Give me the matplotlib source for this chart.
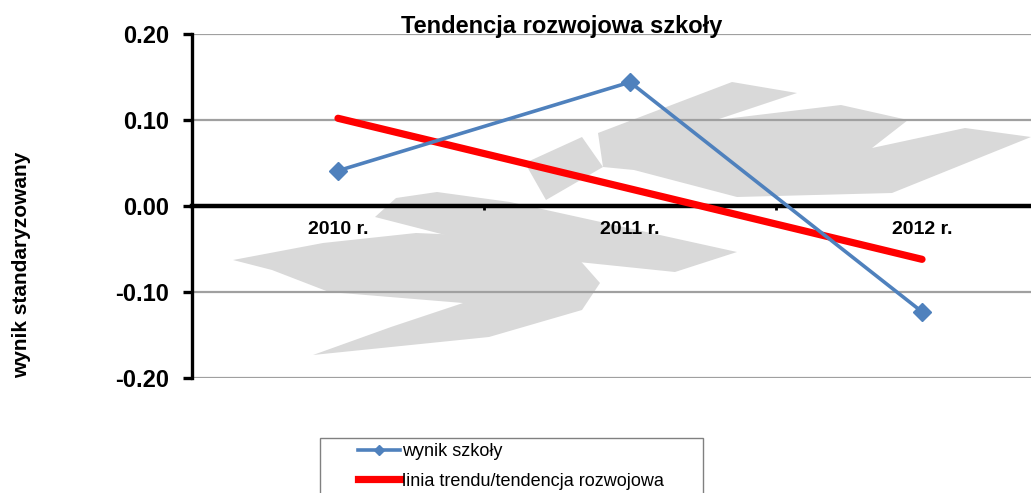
import matplotlib.pyplot as plt
from matplotlib.patches import Polygon, Rectangle
from matplotlib.lines import Line2D

years = ["2010 r.", "2011 r.", "2012 r."]
school_score = [0.041, 0.144, -0.123]
trend_line = [0.102, 0.020, -0.062]
y_ticks = [-0.20, -0.10, 0.00, 0.10, 0.20]

W, H = 1031, 493
plt.rcParams['font.family'] = ['Liberation Sans', 'DejaVu Sans']

fig = plt.figure(figsize=(W / 100, H / 100), dpi=100)
ax = fig.add_axes([192 / W, 1 - 378 / H, 876 / W, 344 / H])

xs = [i + 0.5 for i in range(len(years))]

# faint watermark in the background (pixel coords of the figure)
watermark = [
    [(598, 133), (732, 82), (797, 93), (716, 120), (841, 105), (908, 120), (872, 148),
     (965, 128), (1031, 137), (892, 193), (737, 197), (634, 170), (603, 167)],
    [(525, 163), (582, 137), (603, 167), (546, 200)],
    [(396, 198), (437, 192), (510, 202), (737, 252), (675, 272), (530, 257), (453, 237), (375, 217)],
    [(233, 260), (323, 243), (416, 233), (510, 237), (577, 257), (600, 283), (582, 310),
     (489, 337), (313, 355), (391, 327), (463, 303), (329, 292), (272, 270)],
]
for shape in watermark:
    pts = [(x / W, 1 - y / H) for x, y in shape]
    ax.add_patch(Polygon(pts, closed=True, transform=fig.transFigure,
                         facecolor='#d9d9d9', edgecolor='none', zorder=0.5))

for t in y_ticks:
    if t != 0:
        ax.axhline(t, color='#a0a0a0', lw=1.6, zorder=1)

ax.plot(xs, trend_line, color='#ff0000', lw=5.2, solid_capstyle='round', zorder=3)
ax.plot(xs, school_score, color='#4f81bd', lw=2.6, marker='D', markersize=9, zorder=4)

ax.set_xlim(0, 3)
ax.set_ylim(-0.2, 0.2)
ax.set_yticks(y_ticks)
ax.set_yticklabels([f"{t:.2f}" for t in y_ticks])
ax.set_xticks(xs)
ax.set_xticklabels(years)
ax.set_xticks([1, 2], minor=True)

for s in ['top', 'right']:
    ax.spines[s].set_visible(False)
ax.spines['bottom'].set_position(('data', 0))
ax.spines['bottom'].set_linewidth(3.2)
ax.spines['bottom'].set_zorder(2)
ax.spines['left'].set_linewidth(2.4)

ax.tick_params(axis='y', direction='out', length=6.5, width=2.4, pad=10,
               labelsize=17)
ax.tick_params(axis='x', which='major', length=0, pad=11, labelsize=14)
ax.tick_params(axis='x', which='minor', direction='out', length=3, width=2)
for lab in ax.get_yticklabels() + ax.get_xticklabels():
    lab.set_fontweight('bold')

fig.text(562 / W, 1 - 27 / H, "Tendencja rozwojowa szkoły", ha='center', va='center',
         fontsize=17, fontweight='bold')
fig.text(22 / W, 1 - 265 / H, "wynik standaryzowany", ha='center', va='center',
         rotation=90, fontsize=15, fontweight='bold')

# legend box running off the bottom edge
fig.patches.append(Rectangle((320 / W, -0.1), (703 - 320) / W, 1 - 438 / H + 0.1,
                             transform=fig.transFigure, fill=False,
                             edgecolor='#808080', lw=1))
handles = [
    Line2D([], [], color='#4f81bd', lw=2.6, marker='D', markersize=5),
    Line2D([], [], color='#ff0000', lw=5.2),
]
fig.legend(handles, ["wynik szkoły", "linia trendu/tendencja rozwojowa"],
           loc='upper left', bbox_to_anchor=(358 / W, 1 - 443 / H), frameon=False,
           borderpad=0, borderaxespad=0, handlelength=2.3, handletextpad=0.15,
           labelspacing=0.7, fontsize=13, numpoints=1)

fig.savefig("out.png", dpi=100)
